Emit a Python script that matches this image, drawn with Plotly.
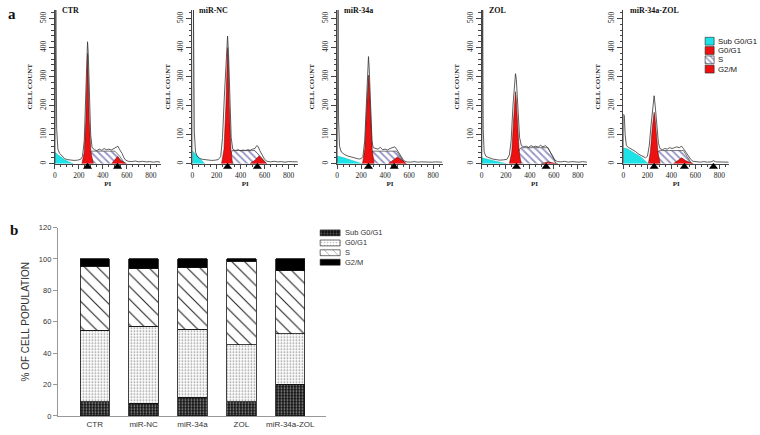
import plotly.graph_objects as go

W, H = 760, 435

# ---------------- Panel a : DNA histograms ----------------
PANELS = ["CTR", "miR-NC", "miR-34a", "ZOL", "miR-34a-ZOL"]
PANEL_LEFT_PX = [53, 191, 336, 481, 623]

SUB_X = [[0, 20, 50, 80, 110, 140, 153],
         [0, 20, 50, 80, 103],
         [0, 50, 100, 150, 208],
         [0, 50, 100, 150, 203],
         [0, 30, 60, 100, 139, 175, 208]]
SUB_Y = [[39, 32, 22, 14, 7, 2, 0],
         [44, 35, 22, 9, 0],
         [26, 21, 14, 7, 0],
         [20, 15, 10, 5, 0],
         [54, 52, 45, 35, 25, 12, 0]]

G1_X = [[225, 245, 258, 266, 272, 278, 286, 300, 320],
        [242, 262, 278, 286, 292, 298, 306, 320, 333],
        [211, 230, 245, 255, 261, 267, 277, 292, 308],
        [230, 250, 265, 275, 281, 287, 297, 312, 328],
        [208, 225, 240, 250, 256, 262, 272, 288, 306]]
G1_Y = [[0, 40, 150, 300, 380, 300, 150, 40, 0],
        [0, 50, 200, 360, 400, 360, 200, 50, 0],
        [0, 50, 180, 280, 305, 280, 180, 50, 0],
        [0, 40, 150, 225, 248, 225, 150, 40, 0],
        [0, 40, 120, 165, 177, 165, 120, 40, 0]]

S_X = [[265, 290, 300, 500, 540, 583],
       [290, 320, 330, 519, 560, 617],
       [258, 290, 300, 494, 530, 564],
       [285, 315, 328, 550, 590, 619],
       [236, 290, 306, 500, 530, 569]]
S_Y = [[0, 40, 43, 43, 25, 0],
       [0, 40, 45, 45, 25, 0],
       [0, 40, 43, 43, 22, 0],
       [0, 50, 55, 55, 25, 0],
       [0, 42, 45, 45, 25, 0]]

G2_X = [[472, 500, 522, 545, 597],
        [478, 520, 555, 590, 617],
        [425, 470, 503, 540, 578],
        [494, 530, 550, 575, 633],
        [417, 450, 486, 520, 583]]
G2_Y = [[0, 12, 25, 12, 0],
        [0, 12, 27, 12, 0],
        [0, 12, 23, 12, 0],
        [0, 4, 6, 4, 0],
        [0, 10, 20, 10, 0]]

OUT_X = [
    [0, 2, 8, 15, 25, 40, 60, 80, 100, 130, 160, 190, 215, 230, 245, 258, 266, 272, 278, 286, 298, 310, 330, 350, 370, 390, 410, 430, 450, 470, 490, 510, 525, 540, 560, 575, 590, 610, 640, 670, 700, 730, 760, 790, 820, 850, 875],
    [0, 2, 8, 15, 25, 40, 60, 80, 100, 130, 160, 190, 215, 235, 250, 265, 280, 292, 300, 310, 322, 335, 355, 380, 400, 420, 440, 460, 480, 500, 520, 535, 548, 560, 580, 600, 620, 650, 680, 710, 740, 770, 800, 830, 860, 875],
    [0, 2, 8, 12, 20, 35, 60, 90, 120, 150, 180, 200, 215, 230, 245, 255, 261, 267, 277, 290, 300, 320, 340, 360, 380, 400, 420, 440, 460, 480, 495, 515, 535, 555, 580, 610, 640, 670, 700, 730, 760, 790, 820, 850, 875],
    [0, 2, 8, 12, 20, 35, 60, 90, 120, 150, 180, 210, 230, 245, 260, 274, 281, 288, 300, 315, 330, 350, 370, 390, 410, 430, 450, 470, 490, 510, 530, 550, 570, 590, 610, 630, 660, 690, 720, 750, 780, 810, 840, 875],
    [0, 2, 8, 15, 25, 42, 70, 100, 130, 160, 185, 200, 215, 230, 245, 256, 265, 278, 292, 305, 325, 345, 365, 385, 405, 425, 445, 465, 485, 500, 520, 540, 560, 580, 610, 640, 670, 700, 730, 750, 770, 800, 830, 860, 875],
]
OUT_Y = [
    [0, 530, 530, 120, 50, 35, 25, 18, 14, 12, 11, 12, 15, 25, 80, 250, 380, 420, 380, 250, 100, 55, 48, 45, 50, 46, 52, 48, 50, 47, 52, 55, 60, 48, 35, 20, 12, 8, 7, 9, 6, 8, 6, 7, 5, 7, 5],
    [0, 530, 530, 110, 40, 25, 18, 15, 14, 12, 11, 12, 14, 25, 90, 230, 380, 440, 380, 230, 90, 50, 45, 48, 44, 47, 45, 48, 46, 50, 52, 62, 58, 45, 30, 15, 8, 6, 8, 6, 7, 5, 7, 6, 5, 6],
    [0, 530, 530, 150, 60, 40, 32, 26, 22, 18, 16, 17, 25, 80, 200, 330, 369, 330, 200, 80, 55, 52, 50, 56, 48, 50, 47, 52, 55, 58, 50, 35, 20, 10, 6, 5, 7, 5, 6, 5, 6, 5, 6, 5, 5],
    [0, 530, 530, 120, 40, 25, 20, 16, 14, 12, 13, 15, 30, 80, 200, 290, 310, 290, 200, 90, 62, 58, 60, 56, 62, 58, 60, 57, 63, 58, 62, 55, 40, 25, 12, 7, 6, 8, 5, 7, 6, 5, 7, 5],
    [0, 170, 165, 100, 62, 56, 50, 42, 32, 25, 20, 25, 60, 130, 200, 234, 200, 130, 70, 52, 48, 52, 50, 55, 52, 55, 58, 55, 60, 52, 38, 25, 15, 8, 6, 5, 7, 5, 6, 10, 6, 5, 6, 4, 5],
]

MARK_X = [[272, 522], [292, 540], [261, 475], [289, 536], [256, 508, 750]]

# ---------------- Panel b : stacked bars ----------------
GROUPS = ["CTR", "miR-NC", "miR-34a", "ZOL", "miR-34a-ZOL"]
SUB_PCT = [9.2, 8.1, 11.9, 9.2, 20.2]
G0G1_PCT = [45.3, 48.9, 43.2, 36.3, 32.2]
S_PCT = [41.0, 36.8, 39.3, 53.1, 40.2]
G2M_PCT = [4.5, 6.2, 5.6, 1.4, 7.4]
B_TICKS = [0, 20, 40, 60, 80, 100, 120]

CYAN = "#1de3e8"
RED = "#ee1111"
HATCH = "#2b2b88"

fig = go.Figure()
layout = {}


def px_dom_x(a, b):
    return [a / W, b / W]


def px_dom_y(top, bottom):
    return [1 - bottom / H, 1 - top / H]


Y_TOP_PX, Y_BOT_PX, Y_MAX = 6, 163, 530
EXTRA_PX = 12
Y_MIN_EXT = -EXTRA_PX * Y_MAX / (Y_BOT_PX - Y_TOP_PX)

for i, name in enumerate(PANELS):
    n = i + 1
    xa = "x" if n == 1 else f"x{n}"
    ya = "y" if n == 1 else f"y{n}"
    left = PANEL_LEFT_PX[i]
    fig.add_trace(go.Scatter(x=[0] + SUB_X[i], y=[0] + SUB_Y[i], fill="toself", fillcolor=CYAN,
                             mode="lines", line=dict(color="#0aa", width=0.4),
                             xaxis=xa, yaxis=ya, showlegend=False, hoverinfo="skip"))
    fig.add_trace(go.Scatter(x=S_X[i], y=S_Y[i], fill="toself",
                             fillpattern=dict(shape="\\", fgcolor=HATCH, bgcolor="white", size=5, solidity=0.35),
                             mode="lines", line=dict(color="#222", width=0.6),
                             xaxis=xa, yaxis=ya, showlegend=False, hoverinfo="skip"))
    fig.add_trace(go.Scatter(x=G1_X[i], y=G1_Y[i], fill="toself", fillcolor=RED,
                             mode="lines", line=dict(color="#500", width=0.5),
                             xaxis=xa, yaxis=ya, showlegend=False, hoverinfo="skip"))
    fig.add_trace(go.Scatter(x=G2_X[i], y=G2_Y[i], fill="toself", fillcolor=RED,
                             mode="lines", line=dict(color="#500", width=0.5),
                             xaxis=xa, yaxis=ya, showlegend=False, hoverinfo="skip"))
    fig.add_trace(go.Scatter(x=OUT_X[i], y=OUT_Y[i], mode="lines",
                             line=dict(color="#333", width=0.8),
                             xaxis=xa, yaxis=ya, showlegend=False, hoverinfo="skip"))
    key = "" if n == 1 else str(n)
    layout[f"xaxis{key}"] = dict(
        domain=px_dom_x(left, left + 106), range=[0, 880], anchor=ya,
        showgrid=False, zeroline=False, showline=True, linecolor="#444", linewidth=1,
        ticks="outside", ticklen=4, tickcolor="#444", tickvals=[0, 200, 400, 600, 800],
        minor=dict(ticks="outside", ticklen=2.5, dtick=50, tickcolor="#444"),
        tickfont=dict(family="Liberation Serif", size=7.5, color="#222"),
        title=dict(text="<b>PI</b>", font=dict(family="Liberation Serif", size=7, color="#222"), standoff=2),
    )
    layout[f"yaxis{key}"] = dict(
        domain=px_dom_y(Y_TOP_PX, Y_BOT_PX), range=[0, Y_MAX], anchor=xa,
        showgrid=False, zeroline=False, showline=True, linecolor="#444", linewidth=1,
        ticks="outside", ticklen=5, tickcolor="#444", dtick=100, tickangle=-90,
        minor=dict(ticks="outside", ticklen=2.5, dtick=20, tickcolor="#444"),
        tickfont=dict(family="Liberation Serif", size=7.5, color="#222"),
        title=dict(text="<b>CELL COUNT</b>", font=dict(family="Liberation Serif", size=7, color="#222"), standoff=5),
    )
    m = 7 + n
    layout[f"xaxis{m}"] = dict(domain=px_dom_x(left, left + 106), range=[0, 880], anchor=f"y{m}",
                               visible=False, fixedrange=True)
    layout[f"yaxis{m}"] = dict(domain=px_dom_y(Y_TOP_PX, Y_BOT_PX + EXTRA_PX), range=[Y_MIN_EXT, Y_MAX],
                               anchor=f"x{m}", visible=False, fixedrange=True)
    fig.add_trace(go.Scatter(x=MARK_X[i], y=[-11] * len(MARK_X[i]), mode="markers",
                             marker=dict(symbol="triangle-up", size=8, color="black"),
                             xaxis=f"x{m}", yaxis=f"y{m}", showlegend=False, hoverinfo="skip"))

# ---------------- bar chart ----------------
bar_specs = [
    ("Sub G0/G1", SUB_PCT, dict(shape=".", bgcolor="#111111", fgcolor="#9a9a9a", size=3, solidity=0.3)),
    ("G0/G1", G0G1_PCT, dict(shape=".", bgcolor="white", fgcolor="#8a8a8a", size=3, solidity=0.25)),
    ("S", S_PCT, dict(shape="\\", bgcolor="white", fgcolor="#222", size=9, solidity=0.12)),
    ("G2/M", G2M_PCT, dict(shape="", bgcolor="black", fgcolor="black")),
]
for nm, vals, pat in bar_specs:
    kw = dict(color="black" if nm == "G2/M" else "white", line=dict(color="#111", width=0.8))
    if pat["shape"]:
        kw["pattern"] = dict(shape=pat["shape"], bgcolor=pat["bgcolor"], fgcolor=pat["fgcolor"],
                             size=pat["size"], solidity=pat["solidity"], fillmode="replace")
    fig.add_trace(go.Bar(x=GROUPS, y=vals, name=nm, width=0.6, marker=kw,
                         xaxis="x6", yaxis="y6", showlegend=False, hoverinfo="skip"))

layout["xaxis6"] = dict(domain=px_dom_x(56, 325), range=[-0.755, 4.735], anchor="y6",
                        showgrid=False, zeroline=False, showline=True, linecolor="#999", linewidth=1,
                        ticks="", tickfont=dict(family="Liberation Sans", size=8, color="#333"))
layout["yaxis6"] = dict(domain=px_dom_y(228.3, 420.7), range=[0, 120], anchor="x6",
                        tickvals=B_TICKS, showgrid=False, zeroline=False, showline=True,
                        linecolor="#999", linewidth=1, ticks="outside", ticklen=4, tickcolor="#999",
                        tickfont=dict(family="Liberation Sans", size=7.5, color="#333"),
                        title=dict(text="% OF CELL POPULATION", font=dict(family="Liberation Sans", size=10, color="#333"), standoff=7))

# ---------------- overlay (pixel space) for legends & labels ----------------
layout["xaxis7"] = dict(domain=[0, 1], range=[0, W], visible=False, anchor="y7", fixedrange=True)
layout["yaxis7"] = dict(domain=[0, 1], range=[H, 0], visible=False, anchor="x7", fixedrange=True)


def swatch(x0, y0, w, h, **kw):
    fig.add_trace(go.Scatter(x=[x0, x0 + w, x0 + w, x0, x0], y=[y0, y0, y0 + h, y0 + h, y0],
                             fill="toself", mode="lines", xaxis="x7", yaxis="y7",
                             showlegend=False, hoverinfo="skip", **kw))


LEG_A = ["Sub G0/G1", "G0/G1", "S", "G2/M"]
rows_a = [38, 47.5, 57, 66.5]
for lab, yy in zip(LEG_A, rows_a):
    if lab == "S":
        swatch(705, yy - 4, 9, 8, line=dict(color="#222", width=0.6),
               fillpattern=dict(shape="\\", fgcolor=HATCH, bgcolor="white", size=4, solidity=0.35))
    else:
        swatch(705, yy - 4, 9, 8, line=dict(color="#222", width=0.6),
               fillcolor=CYAN if lab == "Sub G0/G1" else RED)

rows_b = [233.7, 244, 254, 263.7]
for (nm, vals, pat), yy in zip(bar_specs, rows_b):
    if pat["shape"]:
        swatch(319, yy - 3, 20, 6, line=dict(color="#111", width=0.6),
               fillpattern=dict(shape=pat["shape"], bgcolor=pat["bgcolor"], fgcolor=pat["fgcolor"],
                                size=pat["size"] if pat["shape"] == "." else 6, solidity=pat["solidity"]))
    else:
        swatch(319, yy - 3, 20, 6, line=dict(color="#111", width=0.6), fillcolor="black")

annotations = []
for lab, yy in zip(LEG_A, rows_a):
    annotations.append(dict(x=716, y=yy, xref="x7", yref="y7", text=lab, showarrow=False,
                            xanchor="left", yanchor="middle",
                            font=dict(family="Liberation Sans", size=7.8, color="#111")))
for (nm, _, _), yy in zip(bar_specs, rows_b):
    annotations.append(dict(x=342, y=yy, xref="x7", yref="y7", text=nm, showarrow=False,
                            xanchor="left", yanchor="middle",
                            font=dict(family="Liberation Sans", size=7.5, color="#333")))
for name, left in zip(PANELS, PANEL_LEFT_PX):
    annotations.append(dict(x=left + 5, y=7, xref="x7", yref="y7", text=f"<b>{name}</b>", showarrow=False,
                            xanchor="left", yanchor="middle",
                            font=dict(family="Liberation Serif", size=8, color="#111")))
annotations.append(dict(x=4, y=10, xref="x7", yref="y7", text="<b>a</b>", showarrow=False,
                        xanchor="left", yanchor="middle",
                        font=dict(family="Liberation Serif", size=15, color="#111")))
annotations.append(dict(x=6, y=231, xref="x7", yref="y7", text="<b>b</b>", showarrow=False,
                        xanchor="left", yanchor="middle",
                        font=dict(family="Liberation Serif", size=15, color="#111")))

fig.update_layout(width=W, height=H, margin=dict(l=0, r=0, t=0, b=0),
                  paper_bgcolor="white", plot_bgcolor="rgba(0,0,0,0)",
                  barmode="stack", showlegend=False, annotations=annotations, **layout)

fig.write_html("out.html", config={"displayModeBar": False},
               post_script="document.body.style.margin='0';")
